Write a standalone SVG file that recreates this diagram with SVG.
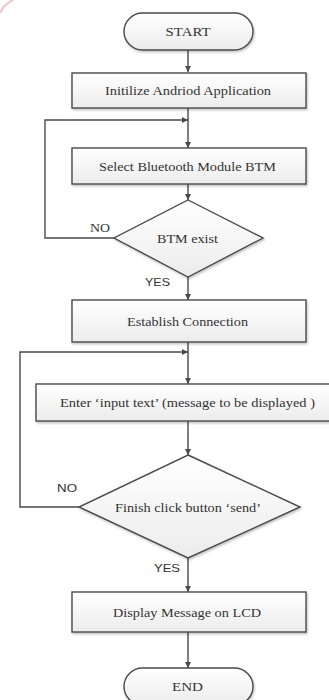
<svg xmlns="http://www.w3.org/2000/svg" width="329" height="700" viewBox="0 0 329 700">
  <style>
    .shape { fill: url(#boxFill); stroke: #4a4a4a; stroke-width: 1.4; }
    .label { font-family: "Liberation Serif", "Times New Roman", serif; font-size: 13px; fill: #333; text-anchor: middle; dominant-baseline: central; }
    .tag { font-family: "Liberation Sans", Arial, sans-serif; font-size: 11.5px; fill: #333; text-anchor: middle; dominant-baseline: central; }
    .tagserif { font-family: "Liberation Serif", "Times New Roman", serif; font-size: 12.5px; fill: #333; text-anchor: middle; dominant-baseline: central; }
    .wire { fill: none; stroke: #4a4a4a; stroke-width: 1.4; }
  </style>
  <defs>
    <linearGradient id="boxFill" x1="0" y1="0" x2="0" y2="1">
      <stop offset="0" stop-color="#ffffff"/>
      <stop offset="1" stop-color="#ececec"/>
    </linearGradient>
    <filter id="shadow" x="-10%" y="-20%" width="130%" height="150%">
      <feDropShadow dx="1" dy="1.5" stdDeviation="1" flood-color="#000" flood-opacity="0.25"/>
    </filter>
    <marker id="arrow" viewBox="0 0 10 10" refX="10" refY="5" markerWidth="6" markerHeight="6" markerUnits="userSpaceOnUse" orient="auto">
      <path d="M0,0 L10,5 L0,10 z" fill="#4a4a4a"/>
    </marker>
  </defs>

  <rect width="329" height="700" fill="#ffffff"/>
  <!-- faint corner mark -->
  <path d="M0,13 Q4,4 13,0" fill="none" stroke="#f0c8c8" stroke-width="2"/>

  <g id="connectors">
    <line class="wire" x1="188" y1="50" x2="188" y2="72" marker-end="url(#arrow)"/>
    <line class="wire" x1="188" y1="108" x2="188" y2="148" marker-end="url(#arrow)"/>
    <polyline class="wire" points="114,238 45,238 45,120 188,120" marker-end="url(#arrow)"/>
    <line class="wire" x1="188" y1="184" x2="188" y2="200" marker-end="url(#arrow)"/>
    <line class="wire" x1="188" y1="277" x2="188" y2="300" marker-end="url(#arrow)"/>
    <line class="wire" x1="188" y1="342" x2="188" y2="384" marker-end="url(#arrow)"/>
    <polyline class="wire" points="79,507 20,507 20,352 188,352" marker-end="url(#arrow)"/>
    <line class="wire" x1="188" y1="421" x2="188" y2="455" marker-end="url(#arrow)"/>
    <line class="wire" x1="188" y1="558" x2="188" y2="592" marker-end="url(#arrow)"/>
    <line class="wire" x1="188" y1="632" x2="188" y2="668" marker-end="url(#arrow)"/>
    <text class="tagserif" x="100" y="228" textLength="20" lengthAdjust="spacingAndGlyphs">NO</text>
    <text class="tag" x="157.5" y="282" textLength="25" lengthAdjust="spacingAndGlyphs">YES</text>
    <text class="tag" x="67" y="488" textLength="20" lengthAdjust="spacingAndGlyphs">NO</text>
    <text class="tag" x="167" y="568" textLength="26" lengthAdjust="spacingAndGlyphs">YES</text>
  </g>

  <g id="start">
    <rect class="shape" filter="url(#shadow)" x="124" y="13" width="129" height="37" rx="18.5"/>
    <text class="label" x="188" y="31.5" textLength="45" lengthAdjust="spacingAndGlyphs">START</text>
  </g>

  <g id="init-app">
    <rect class="shape" filter="url(#shadow)" x="72" y="73" width="234" height="35"/>
    <text class="label" x="188" y="90.5" textLength="166" lengthAdjust="spacingAndGlyphs">Initilize Andriod Application</text>
  </g>

  <g id="select-btm">
    <rect class="shape" filter="url(#shadow)" x="72" y="148" width="234" height="36"/>
    <text class="label" x="187.5" y="166" textLength="177" lengthAdjust="spacingAndGlyphs">Select Bluetooth Module BTM</text>
  </g>

  <g id="btm-exist">
    <polygon class="shape" filter="url(#shadow)" points="188,200 263,238 188,277 114,238"/>
    <text class="label" x="187.5" y="238" textLength="61" lengthAdjust="spacingAndGlyphs">BTM exist</text>
  </g>

  <g id="establish">
    <rect class="shape" filter="url(#shadow)" x="72" y="300" width="234" height="42"/>
    <text class="label" x="187.5" y="321" textLength="121" lengthAdjust="spacingAndGlyphs">Establish Connection</text>
  </g>

  <g id="enter-text">
    <rect class="shape" filter="url(#shadow)" x="36" y="384" width="305" height="37"/>
    <text class="label" x="187.5" y="402.5" textLength="255" lengthAdjust="spacingAndGlyphs">Enter ‘input text’ (message to be displayed )</text>
  </g>

  <g id="finish-send">
    <polygon class="shape" filter="url(#shadow)" points="188,455 300,507 188,558 79,507"/>
    <text class="label" x="188" y="507" textLength="146" lengthAdjust="spacingAndGlyphs">Finish click button ‘send’</text>
  </g>

  <g id="display-lcd">
    <rect class="shape" filter="url(#shadow)" x="72" y="592" width="234" height="40"/>
    <text class="label" x="187" y="612" textLength="148" lengthAdjust="spacingAndGlyphs">Display Message on LCD</text>
  </g>

  <g id="end">
    <rect class="shape" filter="url(#shadow)" x="124" y="668" width="129" height="37" rx="18.5"/>
    <text class="label" x="187.5" y="686" textLength="31" lengthAdjust="spacingAndGlyphs">END</text>
  </g>
</svg>
